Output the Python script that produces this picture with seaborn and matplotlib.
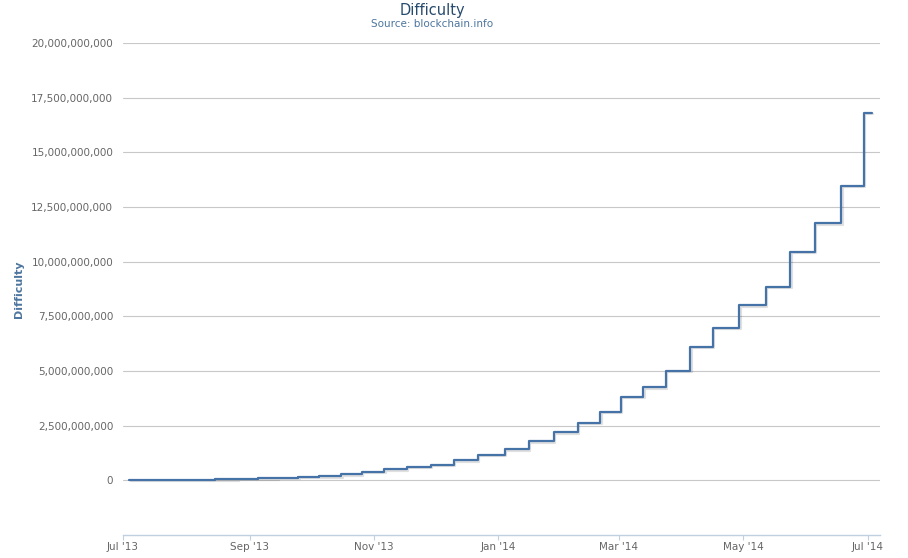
import pandas as pd
import seaborn as sns
import matplotlib.pyplot as plt
import matplotlib.patheffects as pe
from matplotlib.ticker import FuncFormatter

# retarget dates and difficulty levels (blockchain.info)
dates = ["2013-07-04", "2013-07-12", "2013-07-24", "2013-08-04", "2013-08-15",
         "2013-08-26", "2013-09-05", "2013-09-15", "2013-09-25", "2013-10-05",
         "2013-10-16", "2013-10-26", "2013-11-06", "2013-11-17", "2013-11-29",
         "2013-12-10", "2013-12-22", "2014-01-04", "2014-01-16", "2014-01-28",
         "2014-02-09", "2014-02-20", "2014-03-02", "2014-03-13", "2014-03-24",
         "2014-04-05", "2014-04-16", "2014-04-29", "2014-05-12", "2014-05-24",
         "2014-06-05", "2014-06-18", "2014-06-29", "2014-07-03"]
difficulty = [21335329, 26162876, 31256961, 37392766, 50810339,
              65750060, 86933018, 112628549, 148819200, 189281249,
              267731249, 390928788, 510929738, 609482680, 707408283,
              908350862, 1180923195, 1418481395, 1789546951, 2193847870,
              2621404453, 3129573175, 3815723799, 4250217920, 5006860589,
              6119726089, 6978842650, 8000872136, 8853416309, 10455720138,
              11756551917, 13462580115, 16818461371, 16818461371]
tick_dates = ["2013-07-01", "2013-09-01", "2013-11-01", "2014-01-01",
              "2014-03-01", "2014-05-01", "2014-07-01"]
tick_labels = ["Jul '13", "Sep '13", "Nov '13", "Jan '14", "Mar '14", "May '14", "Jul '14"]

df = pd.DataFrame({"date": pd.to_datetime(dates), "difficulty": difficulty})

sns.set_style("white")
plt.rcParams['font.family'] = ['DejaVu Sans']

fig = plt.figure(figsize=(9.08, 5.58), dpi=100)
ax = fig.add_axes([123 / 908, 23 / 558, 757 / 908, 492 / 558])

sns.lineplot(data=df, x="date", y="difficulty", ax=ax, color="#4572A7",
             linewidth=1.6, drawstyle="steps-post",
             path_effects=[pe.SimpleLineShadow(offset=(1, -1), alpha=0.12, rho=0.3),
                           pe.Normal()])

ax.set_xlim(pd.Timestamp("2013-07-01"), pd.Timestamp("2014-07-07"))
ax.set_ylim(-2.5e9, 20e9)
ax.set_yticks([i * 2.5e9 for i in range(9)])
ax.yaxis.set_major_formatter(FuncFormatter(lambda v, p: f"{int(v):,}"))
ax.set_xticks(pd.to_datetime(tick_dates))
ax.set_xticklabels(tick_labels)

ax.grid(axis="y", color="#C8C8C8", linewidth=0.8)
ax.grid(axis="x", visible=False)
for s in ["top", "right", "left"]:
    ax.spines[s].set_visible(False)
ax.spines["bottom"].set_color("#C0D0E0")
ax.spines["bottom"].set_linewidth(1)

ax.tick_params(axis="y", length=0, pad=7, labelsize=7.5, labelcolor="#666666")
ax.tick_params(axis="x", bottom=True, length=3.5, width=0.8, color="#C0D0E0",
               pad=1.5, labelsize=7.5, labelcolor="#666666")

ax.set_xlabel("")
ax.set_ylabel("Difficulty", color="#4D759E", fontsize=8, fontweight="bold", labelpad=5)

fig.text(432 / 908, 1 - 10 / 558, "Difficulty", ha="center", va="center",
         fontsize=10.5, color="#274B6D")
fig.text(432 / 908, 1 - 24 / 558, "Source: blockchain.info", ha="center", va="center",
         fontsize=7.5, color="#4D759E")

fig.savefig("out.png", dpi=100)
